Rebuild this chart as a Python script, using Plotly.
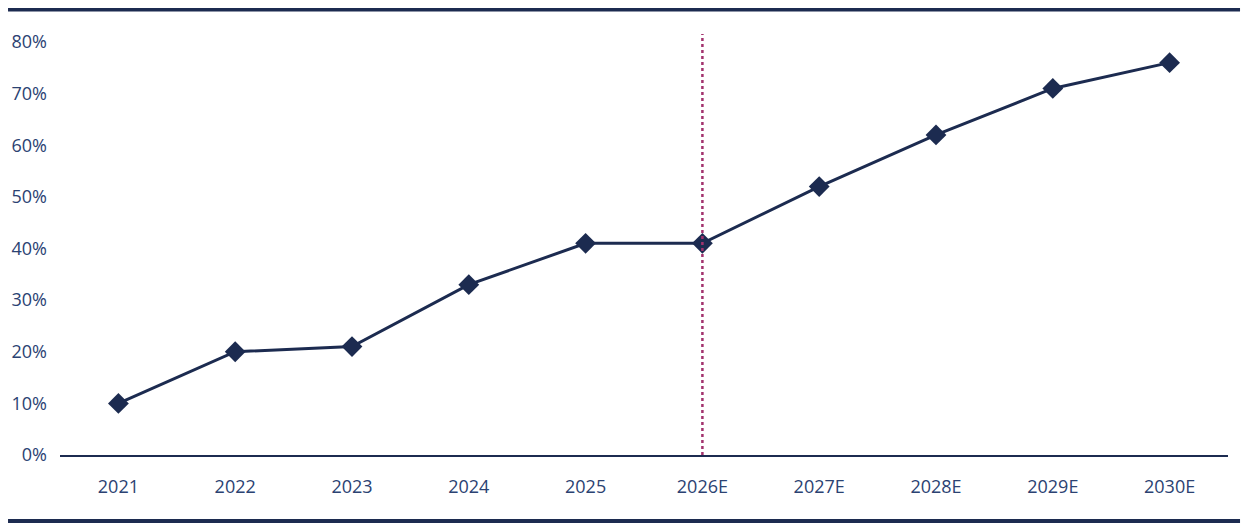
import plotly.graph_objects as go

years = ["2021", "2022", "2023", "2024", "2025", "2026E", "2027E", "2028E", "2029E", "2030E"]
share = [0.10, 0.20, 0.21, 0.33, 0.41, 0.41, 0.52, 0.62, 0.71, 0.76]
y_ticks = [0, 0.1, 0.2, 0.3, 0.4, 0.5, 0.6, 0.7, 0.8]
split_year = "2026E"

navy = "#1c2b50"
text_col = "#2b4272"
dot_col = "#a3336e"

fig = go.Figure()
fig.add_trace(go.Scatter(
    x=years, y=share, mode="lines+markers",
    line=dict(color=navy, width=3),
    marker=dict(symbol="diamond", size=16, color=navy),
    showlegend=False,
))

# vertical dotted separator between actuals and estimates
fig.add_shape(type="line", xref="x", yref="paper", x0=split_year, x1=split_year,
              y0=0, y1=1, line=dict(color=dot_col, width=2.5, dash="dot"), layer="above")

# top and bottom rules
for yy in (1.0582, -0.1568):
    fig.add_shape(type="line", xref="paper", yref="paper", x0=-0.0445, x1=1.0103,
                  y0=yy, y1=yy, line=dict(color=navy, width=4))

# page body has an 8px margin, so the figure is a bit smaller than the window
fig.update_layout(
    width=1242, height=520,
    margin=dict(l=52, r=22, t=26, b=73),
    plot_bgcolor="white", paper_bgcolor="white",
    font=dict(family="Open Sans", size=18, color=text_col),
    xaxis=dict(showgrid=False, showline=True, linecolor=navy, linewidth=1.5,
               ticks="", ticklabelstandoff=15, range=[-0.5, 9.5], automargin=False),
    yaxis=dict(showgrid=False, zeroline=False, range=[0, 0.8155], automargin=False,
               tickvals=y_ticks, tickformat=".0%", ticklabelstandoff=12),
)

fig.write_html("out.html")
